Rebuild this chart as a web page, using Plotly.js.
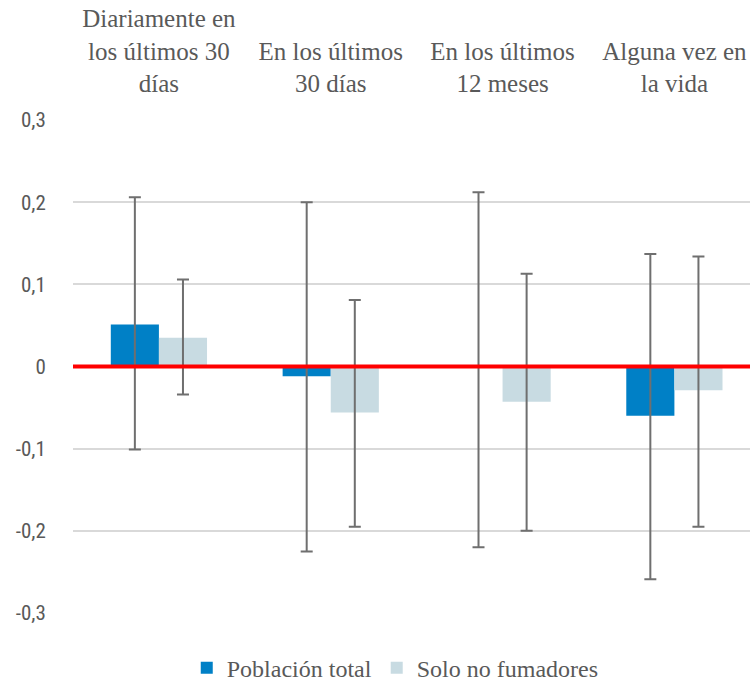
<!DOCTYPE html>
<html>
<head>
<meta charset="utf-8">
<script src="https://cdn.plot.ly/plotly-3.0.1.min.js"></script>
<style>html,body{margin:0;padding:0;background:#fff;}</style>
</head>
<body>
<div id="chart"></div>
<script>
const categories = [
  "Diariamente en<br>los últimos 30<br>días",
  "En los últimos<br>30 días",
  "En los últimos<br>12 meses",
  "Alguna vez en<br>la vida"
];
const seriesNames = ["Población total", "Solo no fumadores"];
const totalValues = [0.051, -0.012, 0.0, -0.060];
const totalUpper = [0.206, 0.200, 0.212, 0.137];
const totalLower = [-0.101, -0.225, -0.220, -0.259];
const nonSmokerValues = [0.035, -0.056, -0.043, -0.029];
const nonSmokerUpper = [0.106, 0.081, 0.113, 0.134];
const nonSmokerLower = [-0.034, -0.195, -0.200, -0.195];
const yTickVals = [-0.3, -0.2, -0.1, 0, 0.1, 0.2, 0.3];
const yTickText = ["-0,3", "-0,2", "-0,1", "0", "0,1", "0,2", "0,3"];

const serifFamily = "Liberation Serif";
const tickFamily = "Roboto Condensed";
const textColor = "#595959";

function errPlus(v, up) { return v.map((d, i) => up[i] - d); }
function errMinus(v, lo) { return v.map((d, i) => d - lo[i]); }

const traces = [
  {
    type: "bar", name: seriesNames[0], x: categories, y: totalValues,
    marker: {color: "#0080C6"},
    error_y: {type: "data", symmetric: false,
      array: errPlus(totalValues, totalUpper), arrayminus: errMinus(totalValues, totalLower),
      color: "#6f6f6f", thickness: 2, width: 6}
  },
  {
    type: "bar", name: seriesNames[1], x: categories, y: nonSmokerValues,
    marker: {color: "#C8DBE2"},
    error_y: {type: "data", symmetric: false,
      array: errPlus(nonSmokerValues, nonSmokerUpper), arrayminus: errMinus(nonSmokerValues, nonSmokerLower),
      color: "#6f6f6f", thickness: 2, width: 6}
  }
];

const layout = {
  width: 750, height: 686,
  margin: {l: 73, r: 0, t: 120, b: 73},
  barmode: "group", bargap: 0.44, bargroupgap: 0,
  showlegend: true,
  legend: {
    orientation: "h", xref: "container", yref: "container",
    x: 0.527, xanchor: "center", y: 0.026, yanchor: "middle",
    font: {family: serifFamily, size: 24, color: textColor}
  },
  xaxis: {
    side: "top", type: "category",
    range: [-0.5, 3.44],
    showgrid: false, zeroline: false, showline: false,
    ticks: "outside", ticklen: 17, tickcolor: "rgba(0,0,0,0)",
    tickfont: {family: serifFamily, size: 25, color: textColor}
  },
  yaxis: {
    range: [-0.3, 0.3],
    tickvals: yTickVals, ticktext: yTickText,
    showgrid: true, gridcolor: "#D9D9D9", gridwidth: 2,
    zeroline: false, showline: false,
    ticks: "outside", ticklen: 22, tickcolor: "rgba(0,0,0,0)",
    tickfont: {family: tickFamily, size: 21, color: textColor}
  },
  shapes: [{
    type: "line", xref: "paper", yref: "y", x0: 0, x1: 1, y0: 0, y1: 0,
    line: {color: "#FF0000", width: 4}, layer: "above"
  }]
};

Plotly.newPlot("chart", traces, layout, {displayModeBar: false, staticPlot: true}).then(function () {
  document.querySelectorAll("#chart .xtick text, #chart .xtick tspan, #chart .legendtext").forEach(function (el) {
    el.style.fontFamily = "'Liberation Serif', serif";
  });
});
</script>
</body>
</html>
